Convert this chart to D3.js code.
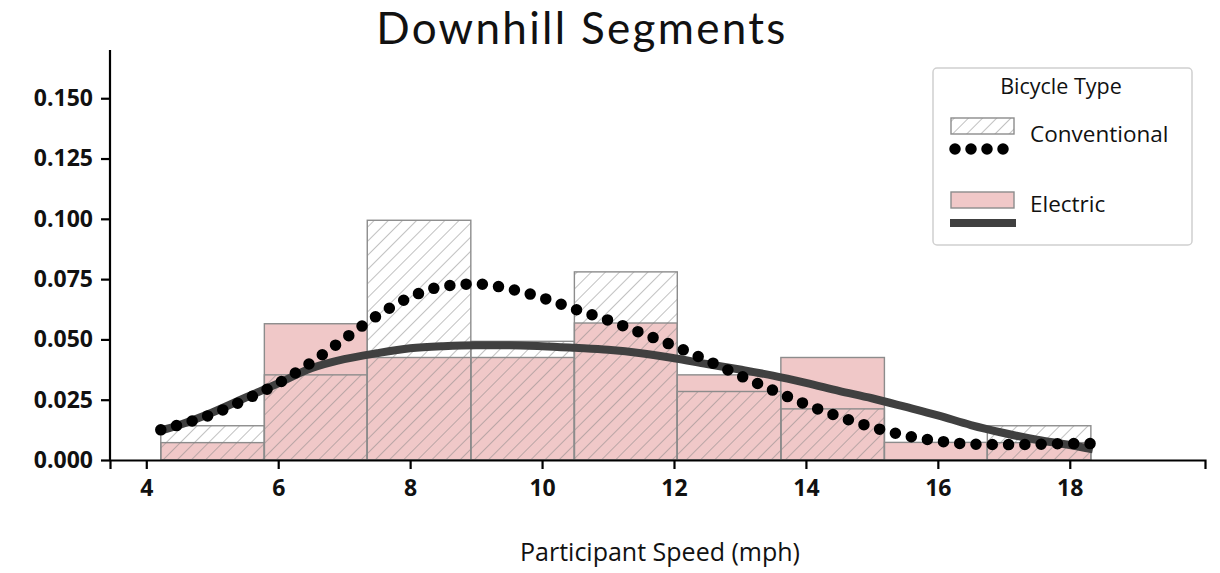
<!DOCTYPE html>
<html>
<head>
<meta charset="utf-8">
<script src="https://cdn.jsdelivr.net/npm/d3@7"></script>
<style>
  body { margin: 0; background: #fff; }
  svg text { fill: #111; }
</style>
</head>
<body>
<div id="chart"></div>
<script>
// histogram bins (mph) and densities
const binEdges = [4.22, 5.79, 7.35, 8.92, 10.49, 12.05, 13.62, 15.19, 16.75, 18.32];
const conventionalDensity = [0.0142, 0.0353, 0.0994, 0.0492, 0.0780, 0.0284, 0.0212, 0.0, 0.0142];
const electricDensity = [0.0072, 0.0565, 0.0425, 0.0425, 0.0568, 0.0353, 0.0425, 0.0073, 0.0072];

// kde curves
const conventionalKdeX = [4.22, 4.5, 5.0, 5.5, 6.0, 6.5, 7.0, 7.5, 8.0, 8.5, 9.0, 9.5, 10.0, 10.5, 11.0, 11.5, 12.0, 12.5, 13.0, 13.5, 14.0, 14.5, 15.0, 15.5, 16.0, 16.5, 17.0, 17.5, 18.0, 18.32];
const conventionalKdeY = [0.0125, 0.0146, 0.0190, 0.0250, 0.0318, 0.0404, 0.0502, 0.0598, 0.0675, 0.0720, 0.0730, 0.0710, 0.0673, 0.0625, 0.0580, 0.0527, 0.0473, 0.0413, 0.0350, 0.0289, 0.0231, 0.0180, 0.0137, 0.0102, 0.0079, 0.0066, 0.0064, 0.0065, 0.0068, 0.0068];
const electricKdeX = [4.22, 4.5, 5.0, 5.5, 6.0, 6.5, 7.0, 7.5, 8.0, 8.5, 9.0, 9.5, 10.0, 10.5, 11.0, 11.5, 12.0, 12.5, 13.0, 13.5, 14.0, 14.5, 15.0, 15.5, 16.0, 16.5, 17.0, 17.5, 18.0, 18.35];
const electricKdeY = [0.0122, 0.0145, 0.0197, 0.0258, 0.0318, 0.0380, 0.0418, 0.0443, 0.0463, 0.0472, 0.0476, 0.0476, 0.0472, 0.0465, 0.0457, 0.0443, 0.0422, 0.0398, 0.0375, 0.0350, 0.0320, 0.0287, 0.0256, 0.0221, 0.0185, 0.0145, 0.0112, 0.0084, 0.0062, 0.0044];

const xTicks = [4, 6, 8, 10, 12, 14, 16, 18];
const yTicks = [0, 0.025, 0.05, 0.075, 0.1, 0.125, 0.15];

const width = 1220, height = 573;
const svg = d3.select("#chart").append("svg")
    .attr("width", width)
    .attr("height", height);

const x = d3.scaleLinear().domain([3.45, 20.05]).range([110, 1205]);
const y = d3.scaleLinear().domain([0, 0.17]).range([460, 50]);

const defs = svg.append("defs");
const hatch = defs.append("pattern")
    .attr("id", "hatch")
    .attr("patternUnits", "userSpaceOnUse")
    .attr("width", 10)
    .attr("height", 10)
    .attr("patternTransform", "rotate(45)");
hatch.append("line")
    .attr("x1", 0).attr("y1", 0).attr("x2", 0).attr("y2", 10)
    .attr("stroke", "#848484")
    .attr("stroke-width", 1);

// bars
const bins = d3.range(binEdges.length - 1).map(i => ({
    x0: binEdges[i], x1: binEdges[i + 1], conv: conventionalDensity[i], elec: electricDensity[i]
}));

svg.append("g").selectAll("rect")
    .data(bins.filter(d => d.elec > 0))
    .enter().append("rect")
    .attr("x", d => x(d.x0))
    .attr("y", d => y(d.elec))
    .attr("width", d => x(d.x1) - x(d.x0))
    .attr("height", d => y(0) - y(d.elec))
    .style("fill", "#f0c8c8")
    .style("stroke", "#8c8c8c")
    .style("stroke-width", 1.4);

svg.append("g").selectAll("rect")
    .data(bins.filter(d => d.conv > 0))
    .enter().append("rect")
    .attr("x", d => x(d.x0))
    .attr("y", d => y(d.conv))
    .attr("width", d => x(d.x1) - x(d.x0))
    .attr("height", d => y(0) - y(d.conv))
    .style("fill", "url(#hatch)")
    .style("stroke", "#8c8c8c")
    .style("stroke-width", 1.4);

// kde lines
const line = d3.line()
    .x(d => x(d[0]))
    .y(d => y(d[1]))
    .curve(d3.curveMonotoneX);

svg.append("path")
    .datum(d3.zip(electricKdeX, electricKdeY))
    .attr("d", line)
    .style("fill", "none")
    .style("stroke", "#404040")
    .style("stroke-width", 8);

svg.append("path")
    .datum(d3.zip(conventionalKdeX, conventionalKdeY))
    .attr("d", line)
    .style("fill", "none")
    .style("stroke", "#000")
    .style("stroke-width", 11.5)
    .style("stroke-linecap", "round")
    .style("stroke-dasharray", "0 16.3");

// axes
const tickFont = sel => sel
    .style("font-family", "'Open Sans', sans-serif")
    .style("font-weight", 700)
    .style("font-size", "23px")
    .style("fill", "#111");

const xAxis = svg.append("g")
    .attr("transform", "translate(0,460)")
    .call(d3.axisBottom(x).tickValues(xTicks).tickSize(9).tickPadding(11).tickFormat(d3.format("d")));
xAxis.select(".domain").attr("stroke", "#000").attr("stroke-width", 2.2);
xAxis.selectAll(".tick line").attr("stroke", "#000").attr("stroke-width", 2.2);
xAxis.selectAll("text").call(tickFont);

const yAxis = svg.append("g")
    .attr("transform", "translate(110,0)")
    .call(d3.axisLeft(y).tickValues(yTicks).tickSize(9).tickPadding(8).tickFormat(d3.format(".3f")));
yAxis.select(".domain").attr("stroke", "#000").attr("stroke-width", 2.2)
    .attr("d", "M0,460V50");
yAxis.selectAll(".tick line").attr("stroke", "#000").attr("stroke-width", 2.2);
yAxis.selectAll("text").call(tickFont);

// title and axis label
svg.append("text")
    .attr("x", 582)
    .attr("y", 44)
    .attr("text-anchor", "middle")
    .style("font-family", "Lato, sans-serif")
    .style("font-size", "44px")
    .style("letter-spacing", "2.3px")
    .text("Downhill Segments");

svg.append("text")
    .attr("x", 660)
    .attr("y", 561)
    .attr("text-anchor", "middle")
    .style("font-family", "'Open Sans', sans-serif")
    .style("font-size", "25px")
    .text("Participant Speed (mph)");

// legend
const legend = svg.append("g").attr("transform", "translate(933,68)");
legend.append("rect")
    .attr("width", 259).attr("height", 177)
    .attr("rx", 4)
    .style("fill", "#fff")
    .style("stroke", "#d0d0d0")
    .style("stroke-width", 1.5);
legend.append("text")
    .attr("x", 128).attr("y", 26)
    .attr("text-anchor", "middle")
    .style("font-family", "'Open Sans', sans-serif")
    .style("font-size", "21.5px")
    .text("Bicycle Type");

legend.append("rect")
    .attr("x", 18).attr("y", 50).attr("width", 63).attr("height", 16)
    .style("fill", "url(#hatch)")
    .style("stroke", "#8c8c8c").style("stroke-width", 1.4);
legend.append("line")
    .attr("x1", 22).attr("x2", 71).attr("y1", 81).attr("y2", 81)
    .style("stroke", "#000")
    .style("stroke-width", 11.5)
    .style("stroke-linecap", "round")
    .style("stroke-dasharray", "0 16");
legend.append("text")
    .attr("x", 97).attr("y", 74)
    .style("font-family", "'Open Sans', sans-serif")
    .style("font-size", "22.5px")
    .text("Conventional");

legend.append("rect")
    .attr("x", 18).attr("y", 124).attr("width", 63).attr("height", 16)
    .style("fill", "#f0c8c8")
    .style("stroke", "#8c8c8c").style("stroke-width", 1.4);
legend.append("line")
    .attr("x1", 17).attr("x2", 83).attr("y1", 155).attr("y2", 155)
    .style("stroke", "#404040")
    .style("stroke-width", 8);
legend.append("text")
    .attr("x", 97).attr("y", 144)
    .style("font-family", "'Open Sans', sans-serif")
    .style("font-size", "22.5px")
    .text("Electric");
</script>
</body>
</html>
